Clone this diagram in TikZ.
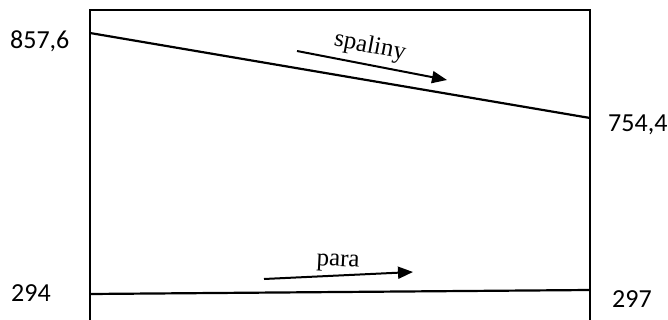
\documentclass[tikz,border=0pt]{standalone}
\usepackage{fontspec}
\setmainfont{Liberation Serif}
\newfontfamily\numfont{Carlito}
\usetikzlibrary{arrows.meta}
\tikzset{
  frameline/.style={line width=1.6pt},
  flowline/.style={line width=2.2pt},
  dirarrow/.style={line width=2pt,-{Triangle[length=15pt,width=12pt]}},
  numlabel/.style={font=\numfont\fontsize{26}{30}\selectfont,inner sep=0pt},
  medlabel/.style={font=\fontsize{25}{30}\selectfont,inner sep=0pt}
}
\begin{document}
\begin{tikzpicture}[x=1pt,y=-1pt]
\useasboundingbox (0,0) rectangle (668,320);
% frame
\coordinate (tl) at (90,10);
\coordinate (tr) at (590,10);
\coordinate (bl) at (90,330);
\coordinate (br) at (590,330);
\draw[frameline] (bl) -- (tl) -- (tr) -- (br);
% flue gas line
\coordinate (s1) at (90,33);
\coordinate (s2) at (590,118);
\draw[flowline] (s1) -- (s2);
% steam line
\coordinate (p1) at (90,294);
\coordinate (p2) at (590,290);
\draw[flowline] (p1) -- (p2);
% arrows
\coordinate (sa1) at (297,51);
\coordinate (sa2) at (447,80);
\draw[dirarrow] (sa1) -- (sa2);
\coordinate (pa1) at (264,279);
\coordinate (pa2) at (413,272);
\draw[dirarrow] (pa1) -- (pa2);
% labels
\node[medlabel,rotate=-11] (spal) at (370,47) {spaliny};
\node[medlabel,rotate=-3] (para) at (338,263) {para};
\node[numlabel,anchor=west] (a) at (10,41) {857,6};
\node[numlabel,anchor=west] (b) at (608,125) {754,4};
\node[numlabel,anchor=west] (c) at (11,293) {294};
\node[numlabel,anchor=west] (d) at (612,299) {297};
\end{tikzpicture}
\end{document}
